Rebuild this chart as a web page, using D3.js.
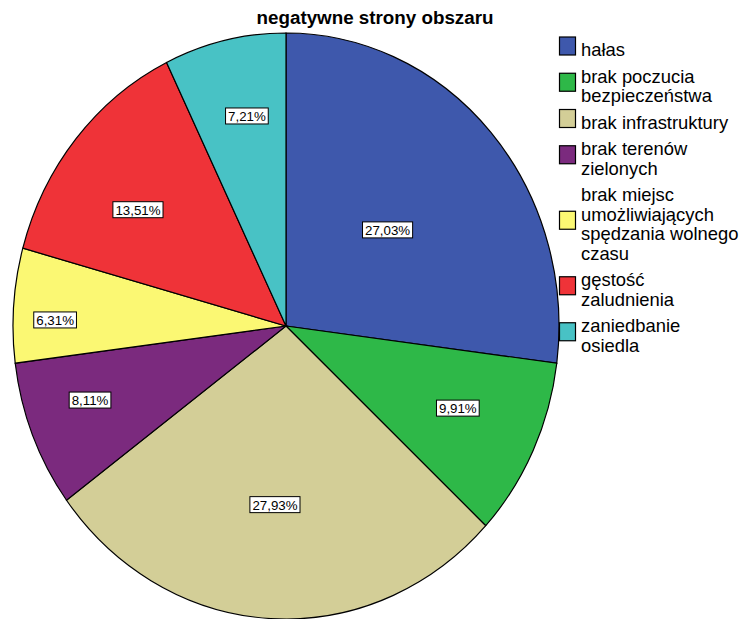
<!DOCTYPE html>
<html>
<head>
<meta charset="utf-8">
<script src="https://cdnjs.cloudflare.com/ajax/libs/d3/7.8.5/d3.min.js"></script>
<style>
  html, body { margin: 0; padding: 0; background: #fff; }
  svg { display: block; font-family: "Liberation Sans", Arial, sans-serif; }
</style>
</head>
<body>
<div id="chart"></div>
<script>
'use strict';

// data (counts, n = 111)
var categories = ['hałas', 'brak poczucia bezpieczeństwa', 'brak infrastruktury',
  'brak terenów zielonych', 'brak miejsc umożliwiających spędzania wolnego czasu',
  'gęstość zaludnienia', 'zaniedbanie osiedla'];
var counts = [30, 11, 31, 9, 7, 15, 8];
var percentLabels = ['27,03%', '9,91%', '27,93%', '8,11%', '6,31%', '13,51%', '7,21%'];
var legendLines = [
  ['hałas'],
  ['brak poczucia', 'bezpieczeństwa'],
  ['brak infrastruktury'],
  ['brak terenów', 'zielonych'],
  ['brak miejsc', 'umożliwiających', 'spędzania wolnego', 'czasu'],
  ['gęstość', 'zaludnienia'],
  ['zaniedbanie', 'osiedla']
];
var colors = ['#3e58ac', '#2eb848', '#d3ce97', '#7b2a7e', '#fbf873', '#ef3338', '#48c2c5'];

// where SPSS put the value boxes (degrees from 12 o'clock, fraction of radius)
var labelAngle = [48.6, 114.0, 183.8, 250.6, 271.4, 306.2, 348.7];
var labelRadius = [0.496, 0.689, 0.611, 0.761, 0.846, 0.672, 0.731];

var width = 741, height = 619;
var cx = 286, cy = 326, rx = 273, ry = 293;

var svg = d3.select('#chart').append('svg')
  .attr('width', width)
  .attr('height', height);

svg.append('text')
  .attr('x', 375)
  .attr('y', 24)
  .attr('text-anchor', 'middle')
  .style('font-size', '18.8px')
  .style('font-weight', 'bold')
  .text('negatywne strony obszaru');

var pie = d3.pie().sort(null).value(function(d) { return d; });
var arcs = pie(counts);
var arc = d3.arc().innerRadius(0).outerRadius(rx);

var g = svg.append('g')
  .attr('transform', 'translate(' + cx + ',' + cy + ') scale(1,' + (ry / rx) + ')');

g.selectAll('path')
  .data(arcs)
  .enter().append('path')
  .attr('d', arc)
  .attr('fill', function(d, i) { return colors[i]; })
  .attr('stroke', '#000')
  .attr('stroke-width', 1.2)
  .attr('vector-effect', 'non-scaling-stroke');

// value boxes
var labels = svg.append('g').style('font-size', '13.3px');
arcs.forEach(function(d, i) {
  var a = labelAngle[i] * Math.PI / 180;
  var x = cx + Math.sin(a) * rx * labelRadius[i];
  var y = cy - Math.cos(a) * ry * labelRadius[i];
  var lg = labels.append('g').attr('transform', 'translate(' + x + ',' + y + ')');
  var t = lg.append('text')
    .attr('text-anchor', 'middle')
    .attr('y', 5)
    .text(percentLabels[i]);
  var w = t.node().getComputedTextLength();
  lg.insert('rect', 'text')
    .attr('x', -w / 2 - 2.5)
    .attr('y', -8)
    .attr('width', w + 5)
    .attr('height', 16)
    .attr('fill', '#fff')
    .attr('stroke', '#000')
    .attr('stroke-width', 1);
});

// legend
var legend = svg.append('g').style('font-size', '18.4px');
var lineH = 19.5, itemGap = 7;
var baseline = 56;
legendLines.forEach(function(lines, i) {
  var first = baseline;
  var item = legend.append('g');
  lines.forEach(function(s, j) {
    item.append('text')
      .attr('x', 581)
      .attr('y', first + j * lineH)
      .text(s);
  });
  var last = first + (lines.length - 1) * lineH;
  var mid = (first + last) / 2 - 10;
  item.insert('rect', 'text')
    .attr('x', 559.5)
    .attr('y', mid - 9)
    .attr('width', 16)
    .attr('height', 18)
    .attr('fill', colors[i])
    .attr('stroke', '#000')
    .attr('stroke-width', 1.2);
  baseline = last + lineH + itemGap;
});
</script>
</body>
</html>
